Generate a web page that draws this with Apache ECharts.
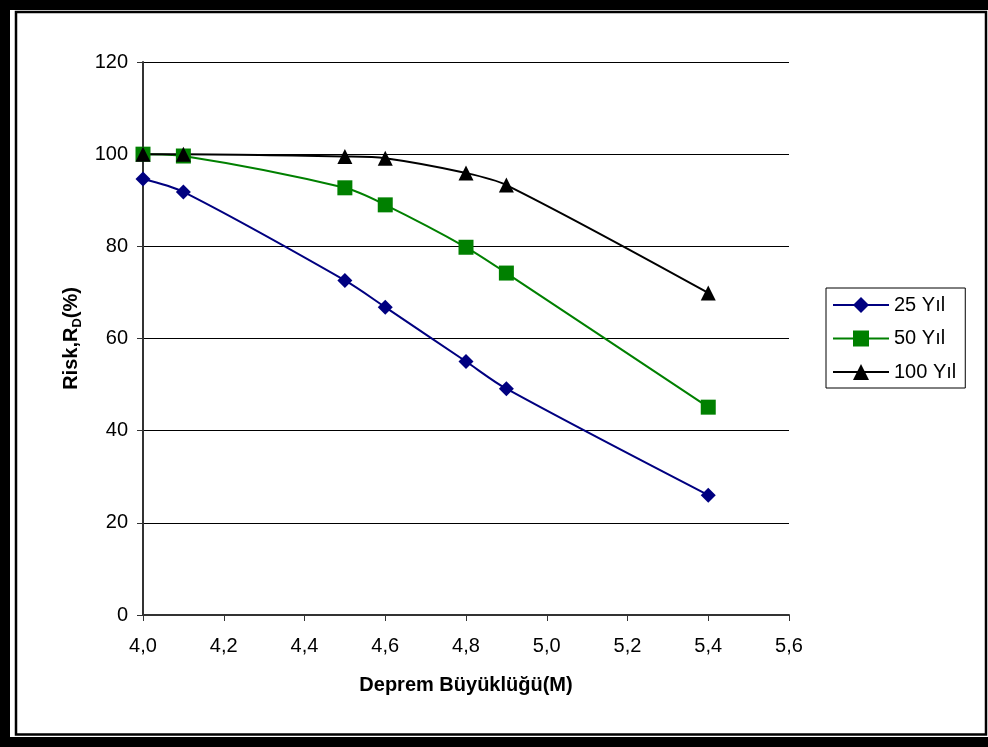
<!DOCTYPE html>
<html>
<head>
<meta charset="utf-8">
<script src="https://cdn.jsdelivr.net/npm/echarts@6/dist/echarts.min.js"></script>
<style>
  html, body { margin: 0; padding: 0; background: #fff; }
  #chart { width: 988px; height: 747px; }
</style>
</head>
<body>
<div id="chart"></div>
<script>
// Earthquake magnitudes (M) on the x axis
const magnitudes = [4.0, 4.1, 4.5, 4.6, 4.8, 4.9, 5.4];

// Risk R_D (%) for each exposure period
const risk25 = [94.6, 91.8, 72.6, 66.8, 55.0, 49.1, 26.0];
const risk50 = [100.0, 99.6, 92.7, 89.0, 79.8, 74.2, 45.1];
const risk100 = [100.0, 100.0, 99.5, 99.1, 95.9, 93.3, 69.9];

const seriesNames = ['25 Yıl', '50 Yıl', '100 Yıl'];
const xTitle = 'Deprem Büyüklüğü(M)';

const yMin = 0, yMax = 120, yStep = 20;
const xMin = 4.0, xMax = 5.6, xStep = 0.2;

const font = 'Arial, "Liberation Sans", sans-serif';
const fs = 20;

function pairs(values) {
  return magnitudes.map((m, i) => [m, values[i]]);
}

function lineSeries(name, values, color, symbol, size) {
  return {
    name: name,
    type: 'line',
    data: pairs(values),
    smooth: 0.3,
    symbol: symbol,
    symbolSize: size,
    lineStyle: { color: color, width: 2 },
    itemStyle: { color: color, borderWidth: 0 },
    emphasis: { disabled: true },
    animation: false
  };
}

const chart = echarts.init(document.getElementById('chart'), null, { renderer: 'canvas' });

chart.setOption({
  backgroundColor: '#fff',
  animation: false,
  textStyle: { fontFamily: font },
  graphic: [
    // heavy outer frame
    { type: 'rect', silent: true, z: -10,
      shape: { x: 0, y: 0, width: 988, height: 747 },
      style: { fill: '#000' } },
    { type: 'rect', silent: true, z: -9,
      shape: { x: 10, y: 10, width: 988, height: 727 },
      style: { fill: '#fff' } },
    // thin inner frame
    { type: 'rect', silent: true, z: -8,
      shape: { x: 16, y: 12, width: 970, height: 722.5 },
      style: { fill: '#fff', stroke: '#000', lineWidth: 2.5 } }
  ],
  grid: { left: 143, right: 199, top: 62, bottom: 132, containLabel: false },
  legend: {
    left: 826, top: 288,
    orient: 'vertical',
    data: seriesNames,
    itemWidth: 56, itemHeight: 20, itemGap: 13.5,
    padding: [7, 9, 6, 6],
    borderColor: '#000', borderWidth: 1,
    textStyle: { fontSize: fs, color: '#000', fontFamily: font },
    selectedMode: false
  },
  xAxis: {
    type: 'value',
    min: xMin, max: xMax, interval: xStep,
    name: xTitle,
    nameLocation: 'middle',
    nameGap: 60,
    nameTextStyle: { fontSize: fs, fontWeight: 'bold', color: '#000', fontFamily: font },
    axisLine: { show: true, lineStyle: { color: '#333', width: 2 } },
    axisTick: { show: true, inside: false, length: 6, lineStyle: { color: '#333', width: 1 } },
    axisLabel: {
      fontSize: fs, color: '#000', margin: 21, fontFamily: font,
      formatter: v => v.toFixed(1).replace('.', ',')
    },
    splitLine: { show: false }
  },
  yAxis: {
    type: 'value',
    min: yMin, max: yMax, interval: yStep,
    name: '{b|Risk,R}{s|D}{b|(%)}',
    nameLocation: 'middle',
    nameRotate: 90,
    nameGap: 58,
    nameTextStyle: {
      rich: {
        b: { fontSize: fs, fontWeight: 'bold', color: '#000', fontFamily: font, lineHeight: 24 },
        s: { fontSize: 13, fontWeight: 'bold', color: '#000', fontFamily: font, verticalAlign: 'bottom', lineHeight: 24 }
      }
    },
    axisLine: { show: true, lineStyle: { color: '#333', width: 2 } },
    axisTick: { show: true, inside: false, length: 6, lineStyle: { color: '#333', width: 1 } },
    axisLabel: { fontSize: fs, color: '#000', margin: 15, fontFamily: font },
    splitLine: { show: true, lineStyle: { color: '#000', width: 1 } }
  },
  series: [
    lineSeries(seriesNames[0], risk25, '#000080', 'diamond', 15),
    lineSeries(seriesNames[1], risk50, '#008000', 'rect', 15),
    lineSeries(seriesNames[2], risk100, '#000000', 'triangle', 15)
  ]
});
</script>
</body>
</html>
